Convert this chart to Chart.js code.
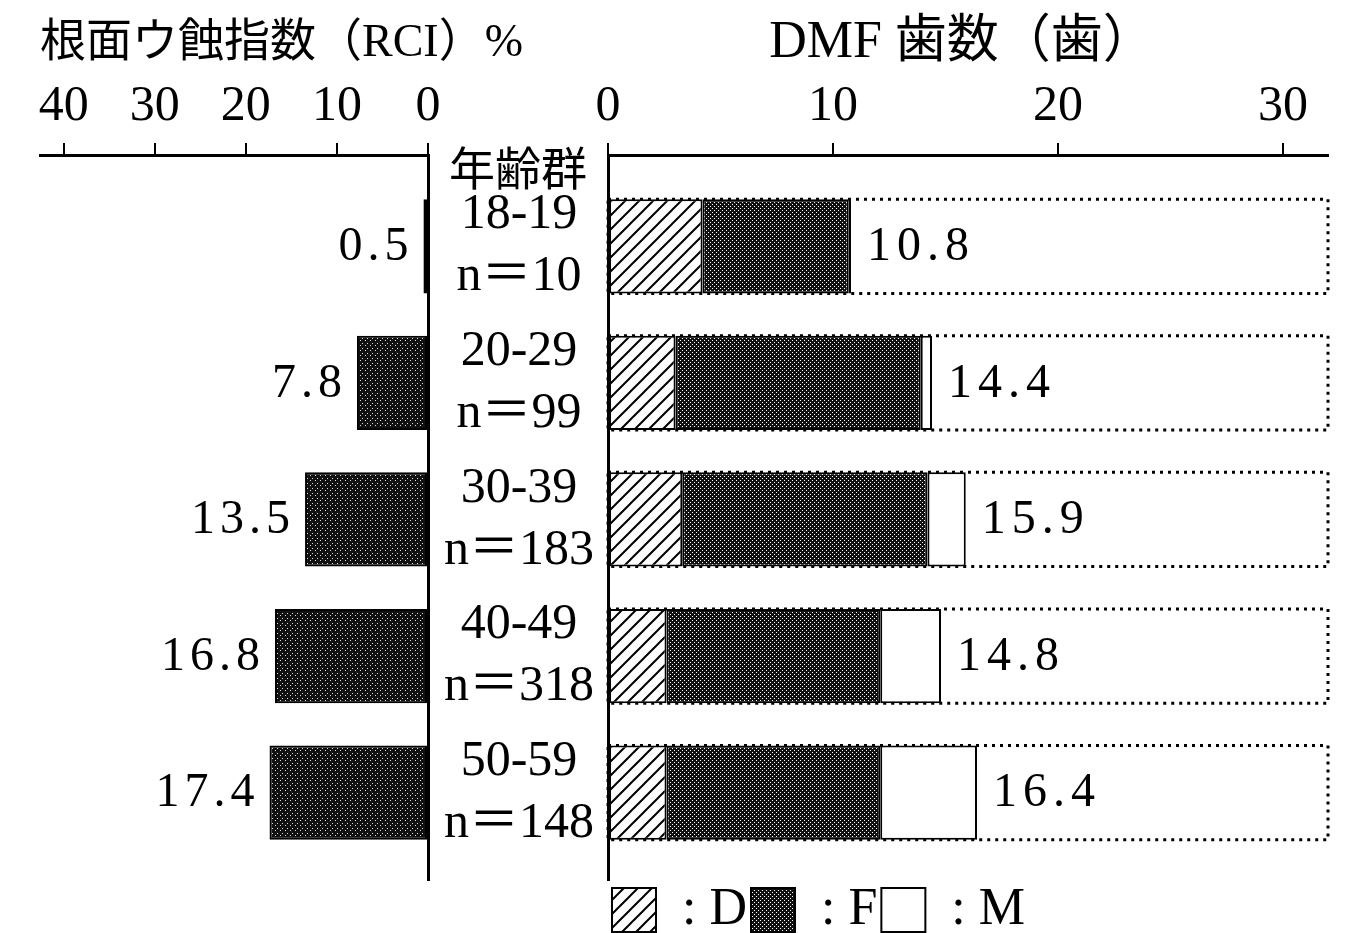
<!DOCTYPE html>
<html lang="ja">
<head>
<meta charset="utf-8">
<title>根面ウ蝕指数とDMF歯数</title>
<script src="https://cdn.jsdelivr.net/npm/chart.js@4.4.1/dist/chart.umd.min.js"></script>
<style>
  html, body { margin: 0; background: #fff; }
  #wrap { position: relative; width: 1352px; height: 933px; }
  #wrap canvas { position: absolute; left: 0; top: 0; }
</style>
</head>
<body>
<div id="wrap">
  <canvas id="rci-chart" width="1352" height="933"></canvas>
  <canvas id="dmf-chart" width="1352" height="933"></canvas>
</div>
<script>
// ===== 年齢群別 根面ウ蝕指数 (RCI) と DMF 歯数 =====

const AGE_GROUPS = ['18-19', '20-29', '30-39', '40-49', '50-59'];
const GROUP_N = [10, 99, 183, 318, 148];
const RCI_VALUES = [0.5, 7.8, 13.5, 16.8, 17.4];
const D_VALUES = [4.2, 3.0, 3.3, 2.6, 2.6];
const F_VALUES = [6.5, 10.9, 10.9, 9.5, 9.5];
const M_VALUES = [0.1, 0.5, 1.7, 2.7, 4.3];
const DMF_TOTALS = [10.8, 14.4, 15.9, 14.8, 16.4];
const RCI_TICKS = [0, 10, 20, 30, 40];
const DMF_TICKS = [0, 10, 20, 30];

const SERIF = "'Liberation Serif', 'Noto Sans CJK JP', serif";

Chart.defaults.color = '#000';
Chart.defaults.font.family = SERIF;

// 塗りパターン (斜線 / 網目 / 点描)
function makePattern(size, draw) {
    const c = document.createElement('canvas');
    c.width = c.height = size;
    const g = c.getContext('2d');
    draw(g, size);
    return g.createPattern(c, 'repeat');
}

const hatchD = makePattern(14, (g, s) => {
    g.fillStyle = '#fff';
    g.fillRect(0, 0, s, s);
    g.strokeStyle = '#000';
    g.lineWidth = 2;
    g.beginPath();
    g.moveTo(0, s); g.lineTo(s, 0);
    g.moveTo(-2, 2); g.lineTo(2, -2);
    g.moveTo(s - 2, s + 2); g.lineTo(s + 2, s - 2);
    g.stroke();
});

const meshF = makePattern(4, (g, s) => {
    g.fillStyle = '#111';
    g.fillRect(0, 0, s, s);
    g.fillStyle = '#fff';
    g.fillRect(0, 0, 1, 1);
    g.fillRect(2, 2, 1, 1);
});

const stippleRCI = makePattern(5, (g, s) => {
    g.fillStyle = '#111';
    g.fillRect(0, 0, s, s);
    g.fillStyle = '#ddd';
    g.fillRect(0, 0, 1, 1);
    g.fillRect(2, 3, 1, 1);
});

const toPoints = values => values.map((v, i) => ({ x: v, y: i }));
const fixTicks = list => scale => { scale.ticks = list.map(v => ({ value: v })); };
const rowTicks = fixTicks(AGE_GROUPS.map((_, i) => i));

const axisX = (ticks, extra) => Object.assign({
    type: 'linear',
    position: 'top',
    min: 0,
    afterBuildTicks: fixTicks(ticks),
    ticks: { color: '#000', font: { family: SERIF, size: 50 }, padding: 6 },
    grid: { drawOnChartArea: false, drawTicks: true, tickLength: 12, color: '#000', lineWidth: 2 },
    border: { display: true, color: '#000', width: 3 }
}, extra);

// 行 (年齢群) の軸: 両方のグラフで同じ範囲にする
const axisRows = extra => Object.assign({
    type: 'linear',
    reverse: true,
    offset: false,
    min: -0.669,
    max: 4.64,
    afterBuildTicks: rowTicks,
    grid: { display: false, drawTicks: false },
    border: { display: true, color: '#000', width: 3 }
}, extra);

const titleOpts = (text, size) => ({
    display: true,
    text: text,
    color: '#000',
    font: { family: SERIF, size: size, weight: 'normal', lineHeight: 55 / size },
    padding: { top: 16, bottom: 0 }
});

// 左側: RCI の数値と「年齢群」見出し
const rciLabels = {
    id: 'rciLabels',
    afterDatasetsDraw(chart) {
        const { ctx } = chart;
        const meta = chart.getDatasetMeta(0);
        ctx.save();
        ctx.fillStyle = '#000';
        ctx.font = `48px ${SERIF}`;
        ctx.letterSpacing = '5px';
        ctx.textAlign = 'right';
        ctx.textBaseline = 'middle';
        meta.data.forEach((bar, i) => {
            ctx.fillText(RCI_VALUES[i].toFixed(1), bar.x - 10, bar.y + 1);
        });
        const y = chart.scales.y;
        ctx.letterSpacing = '0px';
        ctx.font = `46px ${SERIF}`;
        ctx.textAlign = 'center';
        ctx.fillText('年齢群', y.left + y.width / 2, chart.chartArea.top + 18);
        ctx.restore();
    }
};

// 右側: 点線の枠 (0〜最大) と DMF 合計値
const dmfDecor = {
    id: 'dmfDecor',
    beforeDatasetsDraw(chart) {
        const { ctx, scales: { x } } = chart;
        const meta = chart.getDatasetMeta(0);
        const x0 = x.getPixelForValue(0);
        const x1 = x.getPixelForValue(x.max);
        ctx.save();
        ctx.strokeStyle = '#000';
        ctx.lineWidth = 3;
        ctx.setLineDash([3, 5]);
        meta.data.forEach(bar => {
            ctx.strokeRect(x0, bar.y - bar.height / 2, x1 - x0, bar.height);
        });
        ctx.restore();
    },
    afterDatasetsDraw(chart) {
        const { ctx } = chart;
        const meta = chart.getDatasetMeta(chart.data.datasets.length - 1);
        ctx.save();
        ctx.fillStyle = '#000';
        ctx.font = `48px ${SERIF}`;
        ctx.letterSpacing = '6px';
        ctx.textAlign = 'left';
        ctx.textBaseline = 'middle';
        meta.data.forEach((bar, i) => {
            ctx.fillText(DMF_TOTALS[i].toFixed(1), bar.x + 16, bar.y + 1);
        });
        ctx.restore();
    }
};

new Chart(document.getElementById('rci-chart'), {
    type: 'bar',
    data: {
        datasets: [{
            label: 'RCI',
            data: toPoints(RCI_VALUES),
            backgroundColor: stippleRCI,
            borderColor: '#000',
            borderWidth: 2,
            borderSkipped: false,
            barPercentage: 0.69,
            categoryPercentage: 1
        }]
    },
    options: {
        indexAxis: 'y',
        responsive: false,
        animation: false,
        devicePixelRatio: 1,
        layout: { padding: { left: 40, right: 744, top: 0, bottom: 53 } },
        plugins: {
            legend: { display: false },
            tooltip: { enabled: false },
            title: Object.assign(titleOpts('根面ウ蝕指数（RCI）%', 46), { align: 'start' })
        },
        scales: {
            x: axisX(RCI_TICKS, { reverse: true, max: 42.6 }),
            y: axisRows({
                position: 'right',
                afterFit: s => { s.width = 180; s.paddingTop = 0; s.paddingBottom = 0; },
                ticks: {
                    autoSkip: false,
                    crossAlign: 'center',
                    padding: 16,
                    color: '#000',
                    font: { family: SERIF, size: 50, lineHeight: 1.24 },
                    callback: v => [AGE_GROUPS[v], 'n＝' + GROUP_N[v]]
                }
            })
        }
    },
    plugins: [rciLabels]
});

const dmfSet = (label, values, fill) => ({
    label: label,
    data: toPoints(values),
    backgroundColor: fill,
    borderColor: '#000',
    borderWidth: 2,
    borderSkipped: false,
    barPercentage: 0.69,
    categoryPercentage: 1
});

new Chart(document.getElementById('dmf-chart'), {
    type: 'bar',
    data: {
        datasets: [
            dmfSet('D', D_VALUES, hatchD),
            dmfSet('F', F_VALUES, meshF),
            dmfSet('M', M_VALUES, '#fff')
        ]
    },
    options: {
        indexAxis: 'y',
        responsive: false,
        animation: false,
        devicePixelRatio: 1,
        layout: { padding: { left: 596, right: 24, top: 0, bottom: 0 } },
        plugins: {
            tooltip: { enabled: false },
            title: titleOpts('DMF 歯数（歯）', 52),
            legend: {
                position: 'bottom',
                align: 'start',
                fullSize: false,
                maxHeight: 53,
                labels: {
                    boxWidth: 44,
                    boxHeight: 44,
                    padding: 4,
                    color: '#000',
                    font: { family: SERIF, size: 52 },
                    generateLabels: chart => Chart.defaults.plugins.legend.labels.generateLabels(chart)
                        .map(item => Object.assign(item, { text: ': ' + item.text }))
                }
            }
        },
        scales: {
            x: axisX(DMF_TICKS, { stacked: true, max: 32 }),
            y: axisRows({
                position: 'left',
                stacked: true,
                afterFit: s => { s.width = 12; },
                ticks: { display: false }
            })
        }
    },
    plugins: [dmfDecor]
});
</script>
</body>
</html>
